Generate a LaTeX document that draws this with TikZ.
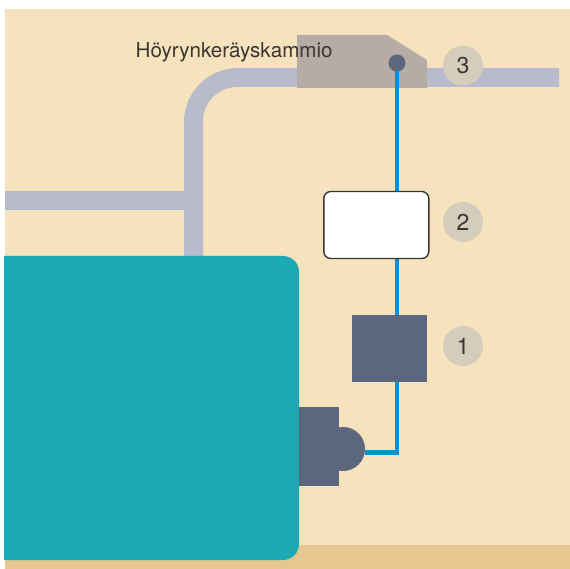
\documentclass[tikz,border=0pt]{standalone}
\usepackage{fontspec}
\setmainfont{TeX Gyre Heros}
\definecolor{bgc}{HTML}{F6E2BC}
\definecolor{groundc}{HTML}{E6C78F}
\definecolor{pipec}{HTML}{B8BBCB}
\definecolor{tealc}{HTML}{1BAAB5}
\definecolor{slatec}{HTML}{5C677E}
\definecolor{chamberc}{HTML}{B7ABA5}
\definecolor{badgec}{HTML}{D6CCBC}
\definecolor{bluec}{HTML}{0A90D2}
\definecolor{inkc}{HTML}{3A3634}
\tikzset{
  x=1pt,y=-1pt,
  pipe/.style={fill=pipec,draw=none},
  badge/.style={circle,fill=badgec,draw=none,minimum size=40pt,inner sep=0pt,text=inkc,font=\fontsize{23}{23}\selectfont},
  wire/.style={draw=bluec,line width=4.6pt,line join=miter},
  slatebox/.style={fill=slatec,draw=none,inner sep=0pt,outer sep=0pt},
}
\begin{document}
\begin{tikzpicture}
\useasboundingbox (0,0) rectangle (570,569);
\fill[bgc] (5,9) rectangle (570,569);
\fill[groundc] (5,545) rectangle (570,569);
% pipes
\fill[pipe] (5,191) rectangle (186,210);
\fill[pipe] (184,258) -- (184,122) arc[start angle=180,end angle=90,x radius=54,y radius=-54] -- (559,68) -- (559,87) -- (237,87)
  arc[start angle=90,end angle=180,x radius=34,y radius=-34] -- (203,258) -- cycle;
% chamber
\fill[chamberc] (297,35) -- (387,35) -- (427,60) -- (427,88) -- (297,88) -- cycle;
% tank
\fill[tealc] (4,256) -- (283,256) arc[start angle=90,end angle=0,x radius=16,y radius=-16] -- (299,544)
  arc[start angle=0,end angle=-90,x radius=16,y radius=-16] -- (4,560) -- cycle;
% pump head and dot
\node[circle,fill=slatec,minimum size=17pt,inner sep=0pt,outer sep=0pt] (dot) at (397,63) {};
\node[circle,fill=slatec,minimum size=44pt,inner sep=0pt,outer sep=0pt] (head) at (343,449) {};
% wire
\coordinate (elbow) at (397,452.3);
\draw[wire] (dot.south) -- (elbow) -- (head.east |- elbow);
% devices
\node[draw=inkc,line width=1.4pt,fill=white,rounded corners=7pt,minimum width=105pt,minimum height=67pt,inner sep=0pt] (filter) at (376.3,225) {};
\node[slatebox,minimum width=75pt,minimum height=67pt] (sensor) at (389.5,348.5) {};
\node[slatebox,minimum width=40pt,minimum height=79pt] (pumpbody) at (319,446.5) {};
% badges
\node[badge] (b3) at (463,65.7) {3};
\node[badge] (b2) at (463,222) {2};
\node[badge] (b1) at (463,346) {1};
% label
\node[anchor=base west,inner sep=0pt,text=inkc,font=\fontsize{20.6}{20.6}\selectfont] (lab) at (135.5,58) {Höyrynkeräyskammio};
\end{tikzpicture}
\end{document}
